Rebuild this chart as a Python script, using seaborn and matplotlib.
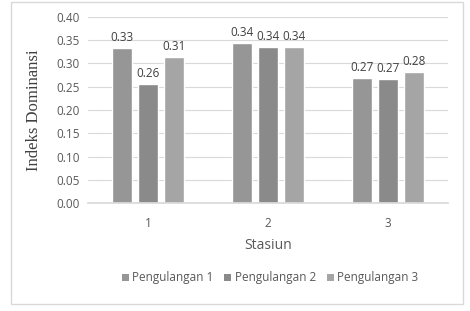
import matplotlib
matplotlib.use("Agg")
import matplotlib.pyplot as plt
import seaborn as sns
import pandas as pd
from matplotlib.patches import Rectangle

stations = ["1", "2", "3"]
series = ["Pengulangan 1", "Pengulangan 2", "Pengulangan 3"]
p1 = [0.333, 0.344, 0.269]
p2 = [0.256, 0.336, 0.266]
p3 = [0.314, 0.336, 0.282]
colors = ["#969696", "#8a8a8a", "#a5a5a5"]

rows = []
for s, vals in zip(series, [p1, p2, p3]):
    for st, v in zip(stations, vals):
        rows.append({"Stasiun": st, "Seri": s, "Nilai": v})
df = pd.DataFrame(rows)

sns.set_theme(style="white")
plt.rcParams["font.family"] = ["Open Sans", "DejaVu Sans"]

fig = plt.figure(figsize=(4.7, 3.11), dpi=100)
fig.patches.append(Rectangle((11/470, 1-304/311), 452/470, 302/311, transform=fig.transFigure,
                             fill=False, edgecolor="#d9d9d9", linewidth=1))
ax = fig.add_axes([88/470, 1-203/311, 360/470, 186/311])

sns.barplot(data=df, x="Stasiun", y="Nilai", hue="Seri", order=stations, hue_order=series,
            palette=colors, width=0.66, gap=0.24, ax=ax, legend=False, errorbar=None,
            saturation=1)

for c in ax.containers:
    ax.bar_label(c, fmt="%.2f", padding=3, fontsize=8.5, color="#404040")

ax.set_ylim(0, 0.40)
ax.set_xlim(-0.5, 2.5)
ax.set_yticks([i * 0.05 for i in range(9)])
ax.set_yticklabels([f"{i*0.05:.2f}" for i in range(9)])
ax.yaxis.grid(True, color="#d9d9d9", linewidth=0.8)
ax.set_axisbelow(True)
for sp in ax.spines.values():
    sp.set_visible(False)
ax.spines["bottom"].set_visible(True)
ax.spines["bottom"].set_color("#d9d9d9")
ax.tick_params(axis="both", length=0, labelsize=8.5, labelcolor="#595959", pad=6)
ax.tick_params(axis="x", pad=10)
ax.set_xlabel("Stasiun", fontsize=10, color="#595959", labelpad=6)
ax.set_ylabel("Indeks Dominansi", fontsize=12, color="#404040",
              family=["Liberation Serif"], labelpad=10)

from matplotlib.patches import Patch
handles = [Patch(facecolor=c, edgecolor="none") for c in colors]
fig.legend(handles, series, ncol=3, loc="center", bbox_to_anchor=(270/470, 1-278/311),
           frameon=False, fontsize=8.5, handlelength=0.6, handleheight=0.6,
           handletextpad=0.3, columnspacing=0.9, labelcolor="#595959")

fig.savefig("out.png", dpi=100)
